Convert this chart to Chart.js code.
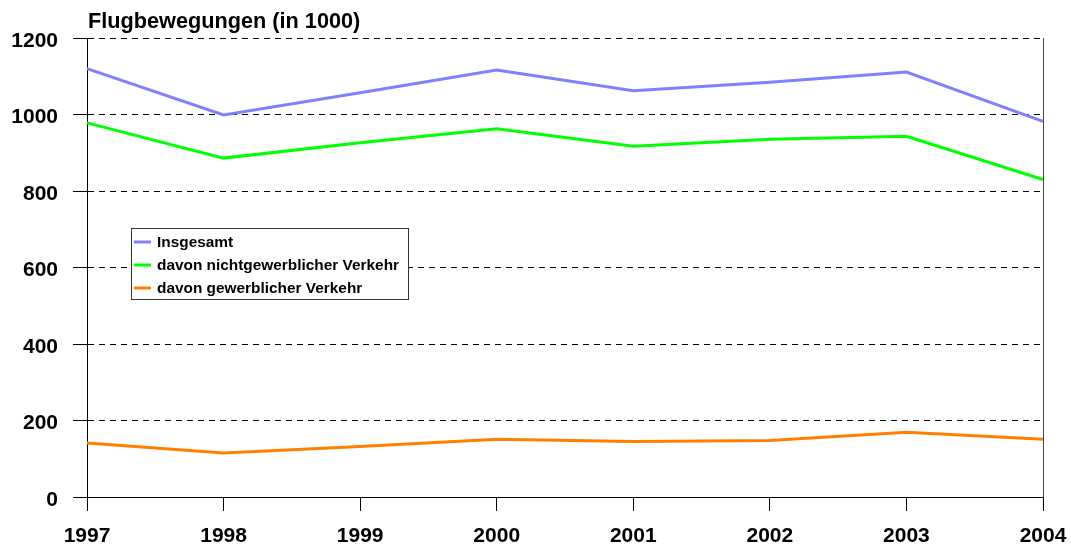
<!DOCTYPE html>
<html lang="de">
  <head>
    <meta charset="UTF-8" />
    <title>Flugbewegungen</title>
    <style>
      html,
      body {
        margin: 0;
        padding: 0;
        background: #fff;
      }

      #wrap {
        width: 1071px;
        height: 545px;
      }
    </style>
    <script src="https://cdn.jsdelivr.net/npm/chart.js"></script>
  </head>
  <body>
    <div id="wrap">
      <canvas id="flightChart" width="1071" height="545"></canvas>
    </div>
    <script>
      // Flugbewegungen in Tausend, 1997 - 2004
      const years = ["1997", "1998", "1999", "2000", "2001", "2002", "2003", "2004"];
      const insgesamt = [1120, 999, 1057, 1116, 1062, 1084, 1111, 982];
      const nichtgewerblich = [978, 886, 926, 963, 917, 935, 943, 830];
      const gewerblich = [141, 115, 132, 151, 145, 148, 169, 151];

      const FONT = "'Liberation Sans', Arial, sans-serif";

      // title, right frame line and the boxed legend
      const decorPlugin = {
        id: "decor",
        beforeDatasetsDraw(chart) {
          const { ctx, chartArea } = chart;
          ctx.save();
          ctx.strokeStyle = "#444";
          ctx.lineWidth = 1;
          ctx.beginPath();
          ctx.moveTo(Math.round(chartArea.right) + 0.5, chartArea.top);
          ctx.lineTo(Math.round(chartArea.right) + 0.5, chartArea.bottom);
          ctx.stroke();
          ctx.restore();
        },
        afterDraw(chart) {
          const { ctx } = chart;
          ctx.save();
          ctx.fillStyle = "#000";
          ctx.font = "bold 21.7px " + FONT;
          ctx.textBaseline = "alphabetic";
          ctx.textAlign = "left";
          ctx.fillText("Flugbewegungen (in 1000)", 88, 28);

          // legend box
          const bx = 131.5, by = 228.5, bw = 277, bh = 71;
          ctx.fillStyle = "#fff";
          ctx.fillRect(bx, by, bw, bh);
          ctx.strokeStyle = "#333";
          ctx.lineWidth = 1;
          ctx.strokeRect(bx, by, bw, bh);

          ctx.font = "bold 15.4px " + FONT;
          ctx.textBaseline = "middle";
          chart.data.datasets.forEach((ds, i) => {
            const y = 242 + i * 23;
            ctx.strokeStyle = ds.borderColor;
            ctx.lineWidth = 3;
            ctx.beginPath();
            ctx.moveTo(134, y);
            ctx.lineTo(151, y);
            ctx.stroke();
            ctx.fillStyle = "#000";
            ctx.fillText(ds.label, 157, y + 1);
          });
          ctx.restore();
        },
      };

      new Chart(document.getElementById("flightChart").getContext("2d"), {
        type: "line",
        data: {
          labels: years,
          datasets: [
            {
              label: "Insgesamt",
              data: insgesamt,
              borderColor: "#8080ff",
            },
            {
              label: "davon nichtgewerblicher Verkehr",
              data: nichtgewerblich,
              borderColor: "#00ff00",
            },
            {
              label: "davon gewerblicher Verkehr",
              data: gewerblich,
              borderColor: "#ff8000",
            },
          ],
        },
        options: {
          responsive: false,
          animation: false,
          devicePixelRatio: 1,
          layout: { padding: { left: 0, right: 28, top: 38, bottom: 0 } },
          elements: {
            line: { borderWidth: 3, tension: 0, fill: false },
            point: { radius: 0, hoverRadius: 0 },
          },
          plugins: {
            legend: { display: false },
            tooltip: { enabled: false },
          },
          scales: {
            x: {
              offset: false,
              afterFit: (scale) => {
                scale.height = 48;
                // keep the end labels from shrinking the plot area
                scale.paddingLeft = 0;
                scale.paddingRight = 0;
              },
              grid: {
                drawOnChartArea: false,
                drawTicks: true,
                tickLength: 14,
                color: "#000",
                tickColor: "#000",
                tickBorderDash: [],
              },
              border: { display: true, color: "#000", width: 1 },
              ticks: {
                color: "#000",
                padding: 13,
                maxRotation: 0,
                autoSkip: false,
                font: { family: FONT, size: 21, weight: "bold" },
              },
            },
            y: {
              min: 0,
              max: 1200,
              afterFit: (scale) => {
                scale.width = 87;
                scale.paddingTop = 0;
                scale.paddingBottom = 0;
              },
              grid: {
                color: "#000",
                lineWidth: 1,
                drawTicks: true,
                tickLength: 14,
                tickColor: "#000",
                tickBorderDash: [],
              },
              border: { display: true, color: "#000", width: 1, dash: [6, 5] },
              ticks: {
                stepSize: 200,
                color: "#000",
                padding: 15,
                labelOffset: 3,
                font: { family: FONT, size: 21, weight: "bold" },
                callback: (v) => String(v),
              },
            },
          },
        },
        plugins: [decorPlugin],
      });
    </script>
  </body>
</html>
